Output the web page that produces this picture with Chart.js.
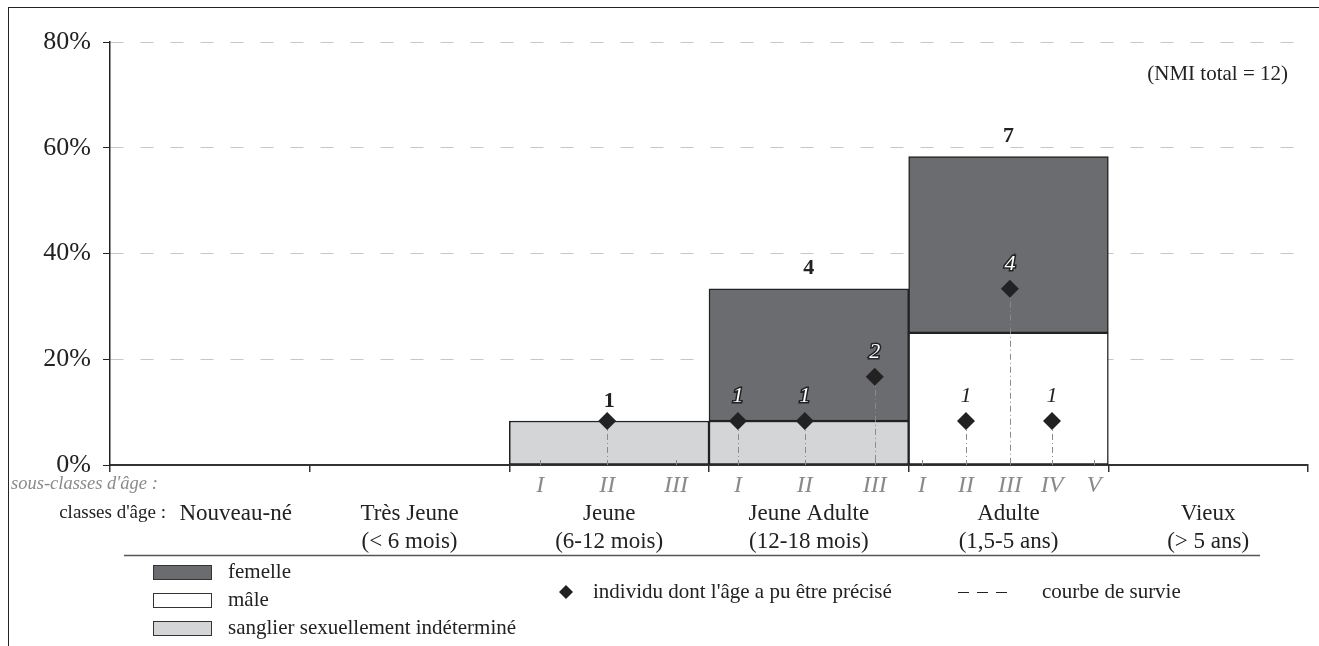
<!DOCTYPE html>
<html>
<head>
<meta charset="utf-8">
<script src="https://cdn.jsdelivr.net/npm/chart.js@4"></script>
<style>
  html, body { margin: 0; padding: 0; background: #fff; overflow: hidden; }
  #wrap { position: relative; width: 1319px; height: 646px; }
  #frame { position: absolute; left: 8px; top: 7px; width: 1400px; height: 700px; border: 1.5px solid #222; box-sizing: border-box; }
  canvas { position: absolute; left: 0; top: 0; }
</style>
</head>
<body>
<div id="wrap">
  <div id="frame"></div>
  <canvas id="chart" width="1319" height="646"></canvas>
</div>
<script>
// age classes (x axis)
const classNames = ["Nouveau-né", "Très Jeune", "Jeune", "Jeune Adulte", "Adulte", "Vieux"];
const classRanges = ["", "(< 6 mois)", "(6-12 mois)", "(12-18 mois)", "(1,5-5 ans)", "(> 5 ans)"];

// percentages per class (NMI total = 12)
const indetermine = [null, null, 8.33, 8.33, null, null];
const male = [null, null, null, null, 25, null];
const femelle = [null, null, null, 25, 33.33, null];
const classTotals = ["", "", "1", "4", "7", ""];

// sub-classes, position in class units (0..6)
const subLabels = ["I", "II", "III", "I", "II", "III", "I", "II", "III", "IV", "V"];
const subPos = [2.155, 2.49, 2.835, 3.145, 3.48, 3.83, 4.067, 4.287, 4.507, 4.718, 4.928];

// individuals with a precise age
const dotX = [2.49, 3.145, 3.48, 3.83, 4.287, 4.507, 4.718];
const dotY = [8.33, 8.33, 8.33, 16.67, 8.33, 33.33, 8.33];
const dotCount = ["", "1", "1", "2", "1", "4", "1"];
const dotOnDark = [false, true, true, true, false, true, false];

const yTicks = [0, 20, 40, 60, 80];

const DARK = "#6b6c70";
const LIGHT = "#d4d5d7";
const LINE = "#222";
const SERIF = "'Liberation Serif', 'Times New Roman', serif";

Chart.defaults.font.family = SERIF;
Chart.defaults.color = "#222";

const extras = {
  id: "extras",
  // drop lines go under the diamonds but over the bars
  beforeDatasetDraw(chart, args) {
    if (args.meta.type !== "scatter") return;
    const ctx = chart.ctx;
    const xs = chart.scales.xs, y = chart.scales.y;
    const base = y.getPixelForValue(0);
    ctx.save();
    ctx.strokeStyle = "#888";
    ctx.lineWidth = 1;
    subPos.forEach(p => {
      const px = Math.round(xs.getPixelForValue(p)) + 0.5;
      ctx.beginPath(); ctx.moveTo(px, base - 5); ctx.lineTo(px, base); ctx.stroke();
    });
    ctx.setLineDash([6, 3, 1, 3]);
    ctx.strokeStyle = "#8a8a8a";
    dotX.forEach((v, i) => {
      const px = Math.round(xs.getPixelForValue(v)) + 0.5;
      ctx.beginPath(); ctx.moveTo(px, y.getPixelForValue(dotY[i])); ctx.lineTo(px, base); ctx.stroke();
    });
    ctx.restore();
  },
  afterDatasetsDraw(chart) {
    const ctx = chart.ctx;
    const xs = chart.scales.xs, y = chart.scales.y, x = chart.scales.x;
    ctx.save();

    // counts above diamonds
    ctx.font = "italic 22px " + SERIF;
    ctx.textAlign = "center";
    ctx.textBaseline = "middle";
    dotX.forEach((v, i) => {
      if (!dotCount[i]) return;
      const px = xs.getPixelForValue(v), py = y.getPixelForValue(dotY[i]) - 25;
      if (dotOnDark[i]) {
        ctx.lineWidth = 3; ctx.strokeStyle = "#222"; ctx.strokeText(dotCount[i], px, py);
        ctx.fillStyle = "#fff"; ctx.fillText(dotCount[i], px, py);
      } else {
        ctx.fillStyle = "#222"; ctx.fillText(dotCount[i], px, py);
      }
    });

    // totals above bars
    ctx.font = "bold 22px " + SERIF;
    ctx.fillStyle = "#222";
    classTotals.forEach((t, i) => {
      if (!t) return;
      const sum = (indetermine[i] || 0) + (male[i] || 0) + (femelle[i] || 0);
      ctx.fillText(t, x.getPixelForValue(i), y.getPixelForValue(sum) - 20);
    });
    ctx.restore();
  },
  afterDraw(chart) {
    const ctx = chart.ctx;
    const xs = chart.scales.xs, y = chart.scales.y;
    const base = y.getPixelForValue(0);
    ctx.save();
    ctx.textBaseline = "middle";

    // sub-class labels
    ctx.fillStyle = "#8a8a8a";
    ctx.font = "italic 24px " + SERIF;
    ctx.textAlign = "center";
    subPos.forEach((p, i) => ctx.fillText(subLabels[i], xs.getPixelForValue(p), base + 21));
    ctx.font = "italic 18.5px " + SERIF;
    ctx.textAlign = "left";
    ctx.fillText("sous-classes d'âge :", 11, base + 19);

    ctx.fillStyle = "#222";
    ctx.font = "19px " + SERIF;
    ctx.textAlign = "right";
    ctx.fillText("classes d'âge :", 166, base + 48);

    // NMI
    ctx.font = "21px " + SERIF;
    ctx.textAlign = "right";
    ctx.fillText("(NMI total = 12)", 1288, y.getPixelForValue(73.8));

    // separator
    ctx.strokeStyle = "#555";
    ctx.lineWidth = 1.5;
    ctx.beginPath(); ctx.moveTo(124, 555.5); ctx.lineTo(1260, 555.5); ctx.stroke();

    // legend
    const items = [["femelle", DARK], ["mâle", "#fff"], ["sanglier sexuellement indéterminé", LIGHT]];
    ctx.font = "21px " + SERIF;
    ctx.textAlign = "left";
    items.forEach((it, i) => {
      const ty = 565 + i * 28;
      ctx.fillStyle = it[1];
      ctx.fillRect(153, ty, 58, 14);
      ctx.strokeStyle = "#333"; ctx.lineWidth = 1;
      ctx.strokeRect(153.5, ty + 0.5, 58, 14);
      ctx.fillStyle = "#222";
      ctx.fillText(it[0], 228, ty + 7);
    });
    ctx.beginPath();
    ctx.moveTo(566, 585); ctx.lineTo(573, 592); ctx.lineTo(566, 599); ctx.lineTo(559, 592); ctx.closePath();
    ctx.fill();
    ctx.fillText("individu dont l'âge a pu être précisé", 593, 592);
    ctx.setLineDash([11, 8]);
    ctx.strokeStyle = "#222"; ctx.lineWidth = 1.2;
    ctx.beginPath(); ctx.moveTo(958, 592.5); ctx.lineTo(1012, 592.5); ctx.stroke();
    ctx.setLineDash([]);
    ctx.fillText("courbe de survie", 1042, 592);
    ctx.restore();
  }
};

new Chart(document.getElementById("chart"), {
  data: {
    labels: classNames.map((n, i) => [n, classRanges[i]]),
    datasets: [
      { type: "bar", label: "sanglier sexuellement indéterminé", data: indetermine, backgroundColor: LIGHT },
      { type: "bar", label: "mâle", data: male, backgroundColor: "#fff" },
      { type: "bar", label: "femelle", data: femelle, backgroundColor: DARK },
      {
        type: "scatter", label: "individu", xAxisID: "xs", order: -1,
        data: dotX.map((v, i) => ({ x: v, y: dotY[i] })),
        pointStyle: "rectRot", pointRadius: 9, backgroundColor: "#222", borderColor: "#222", borderWidth: 0
      }
    ].map(d => d.type === "bar" ? Object.assign(d, {
      stack: "s", grouped: false, borderColor: LINE, borderWidth: 1.5, borderSkipped: false,
      barPercentage: 1, categoryPercentage: 1
    }) : d)
  },
  options: {
    responsive: false,
    animation: false,
    layout: { padding: { top: 42, right: 11, left: 0, bottom: 0 } },
    plugins: { legend: { display: false }, tooltip: { enabled: false } },
    scales: {
      x: {
        type: "category", stacked: true, offset: true,
        border: { color: "#333", width: 2 },
        grid: { offset: true, drawOnChartArea: false, color: "#333", tickLength: 7, lineWidth: 1.5 },
        ticks: {
          padding: 28, font: { size: 23, lineHeight: 1.22 }, color: "#222", maxRotation: 0,
          // first label sits right of the "classes d'âge :" caption
          callback: (v, i) => i === 0 ? ["         " + classNames[0], ""] : [classNames[i], classRanges[i]]
        },
        afterFit: s => { s.height = 181; }
      },
      xs: { type: "linear", display: false, min: 0, max: 6 },
      y: {
        stacked: true, min: 0, max: 80,
        afterBuildTicks: s => { s.ticks = yTicks.map(v => ({ value: v })); },
        border: { color: "#222", width: 1.5, dash: [13, 17] },
        grid: { color: "#c6c6c6", tickColor: "#222", tickLength: 7, tickBorderDash: [] },
        ticks: { padding: 12, font: { size: 26 }, color: "#222", callback: v => v + "%" },
        afterFit: s => { s.width = 110; }
      }
    }
  },
  plugins: [extras]
});
</script>
</body>
</html>
